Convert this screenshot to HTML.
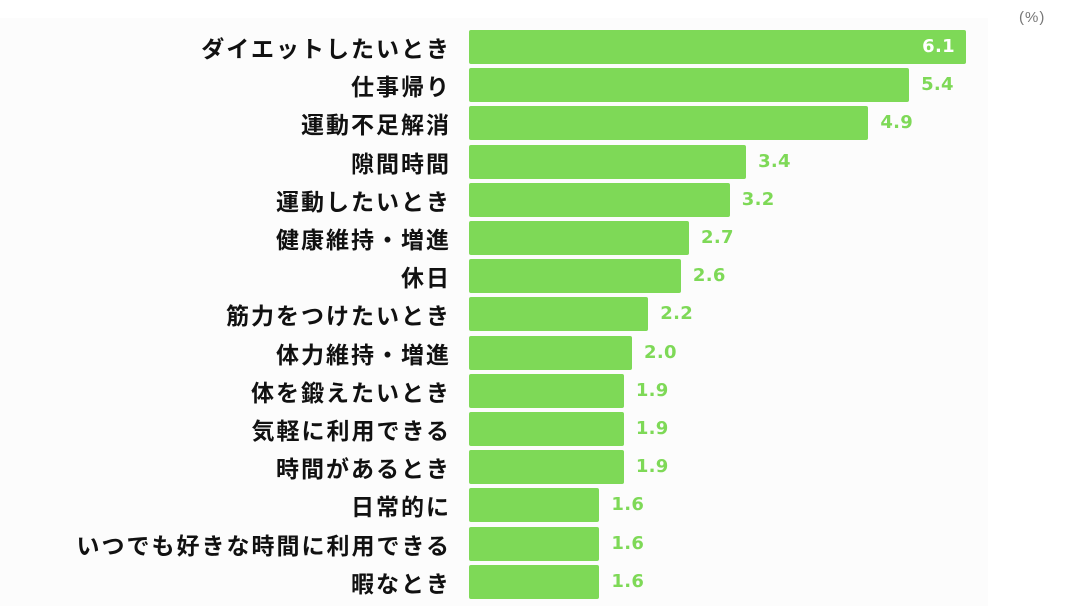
<!DOCTYPE html>
<html><head><meta charset="utf-8"><style>
body{margin:0;width:1087px;height:614px;background:#fff;position:relative;overflow:hidden;font-family:"Liberation Sans","Noto Sans CJK JP",sans-serif}
.bg{position:absolute;left:0;top:18px;width:988px;height:588px;background:#fcfcfc}
.l{position:absolute;right:636px;font-size:23px;letter-spacing:2px;color:#111;white-space:nowrap;line-height:34px;font-family:"Noto Sans CJK JP",sans-serif;font-weight:bold}
.b{position:absolute;left:469px;height:34px;background:#7ed957;border-radius:2px}
.v{position:absolute;font-size:18px;letter-spacing:0.3px;font-weight:bold;color:#7ed957;line-height:34px;font-family:"DejaVu Sans",sans-serif}
.u{position:absolute;left:1019px;top:9px;font-size:15px;letter-spacing:1px;color:#777}
</style></head><body><div class="bg"></div><div class="u">(%)</div>
<script>
const d=[["ダイエットしたいとき",6.1],["仕事帰り",5.4],["運動不足解消",4.9],["隙間時間",3.4],["運動したいとき",3.2],["健康維持・増進",2.7],["休日",2.6],["筋力をつけたいとき",2.2],["体力維持・増進",2.0],["体を鍛えたいとき",1.9],["気軽に利用できる",1.9],["時間があるとき",1.9],["日常的に",1.6],["いつでも好きな時間に利用できる",1.6],["暇なとき",1.6]];
let h="";d.forEach((r,i)=>{const t=30+i*38.2,w=r[1]*81.5;
h+=`<div class="l" style="top:${t}px">${r[0]}</div><div class="b" style="top:${t}px;width:${w}px"></div>`;
if(i==0)h+=`<div class="v" style="top:${t}px;left:${469+w-44}px;color:#fff">${r[1].toFixed(1)}</div>`;
else h+=`<div class="v" style="top:${t}px;left:${469+w+12}px">${r[1].toFixed(1)}</div>`;});
document.write(h);
</script></body></html>
